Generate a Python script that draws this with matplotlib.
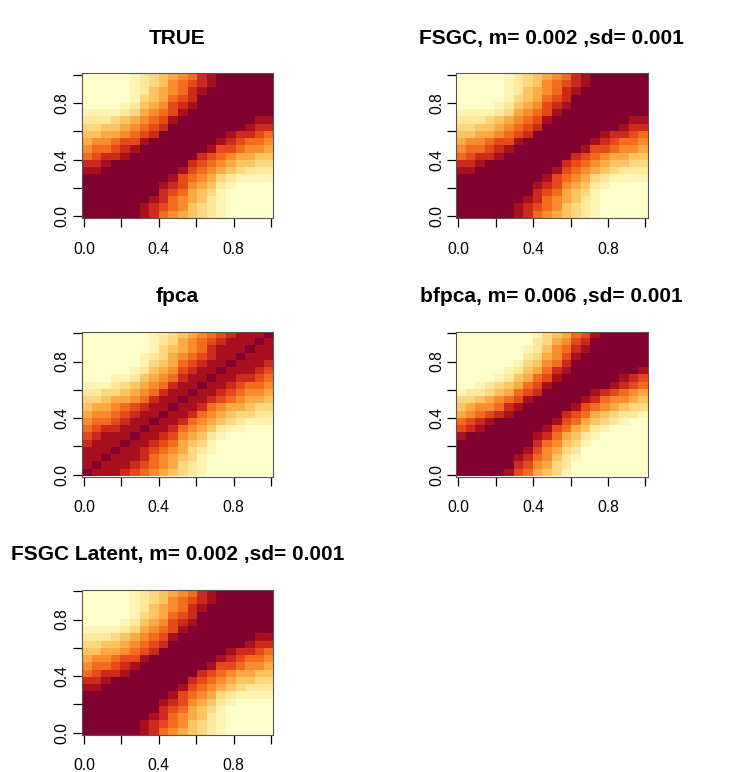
import numpy as np
import matplotlib
matplotlib.use("Agg")
import matplotlib.pyplot as plt
from matplotlib.colors import ListedColormap

plt.rcParams['font.family'] = ['Liberation Sans', 'DejaVu Sans']

# Colour level (0 = lightest ... 11 = darkest) of each image cell, read off the
# picture on a 20 x 20 grid; rows listed from y = 1 (top) down to y = 0.
TRUE_ROWS = [
    "0000012345679abbbbbb",
    "0000012346789abbbbbb",
    "000001245679abbbbbbb",
    "000001345789bbbbbbbb",
    "00001245689abbbbbbbb",
    "1111235678abbbbbbbbb",
    "222345678abbbbbbbbaa",
    "334456789bbbbbbbba99",
    "44556789bbbbbbba9987",
    "566788abbbbbbba98776",
    "67789abbbbbbba887665",
    "7899abbbbbbb98765544",
    "99abbbbbbbb987654433",
    "aabbbbbbbba876543222",
    "bbbbbbbbba8765321111",
    "bbbbbbbba98654210000",
    "bbbbbbbb987543100000",
    "bbbbbbba976542100000",
    "bbbbbba9876432100000",
    "bbbbbba9765432100000",
]

FSGC_ROWS = [
    "0000012345679abbbbbb",
    "0000012346789abbbbbb",
    "000001245679abbbbbbb",
    "000001345789bbbbbbbb",
    "00001245689abbbbbbbb",
    "1111235678abbbbbbbbb",
    "222345678abbbbbbbbaa",
    "334456789bbbbbbbba99",
    "44556789bbbbbbba9987",
    "566788abbbbbbba98776",
    "67789abbbbbbba887665",
    "7899abbbbbbb98765544",
    "99abbbbbbbb987654433",
    "aabbbbbbbba876543222",
    "bbbbbbbbba8765321111",
    "bbbbbbbba98654210000",
    "bbbbbbbb987543100000",
    "bbbbbbba976542100000",
    "bbbbbba9876432100000",
    "bbbbbba9765432100000",
]

FPCA_ROWS = [
    "0000000123456789aaab",
    "000000012356789aaaba",
    "00000001345679aaabaa",
    "00000012356789aabaaa",
    "0000001345789aabaaa9",
    "000001245689aabaaa98",
    "00011245679aabaa9987",
    "1112345679aabaa98776",
    "223345679aabaa987665",
    "33455679aabaa9876554",
    "4556789aabaa97655433",
    "566789aabaa976543322",
    "67789aabaa9765432111",
    "7899aabaa97654211000",
    "89aaabaa986542100000",
    "9aaabaa9875431000000",
    "aaabaa98765321000000",
    "aabaaa97654310000000",
    "abaaa987653210000000",
    "baaa9876543210000000",
]

BFPCA_ROWS = [
    "00000000134578abbbbb",
    "00000000235689bbbbbb",
    "0000000124679abbbbbb",
    "000000023568abbbbbbb",
    "000000134679bbbbbbbb",
    "00000124579abbbbbbba",
    "0000124578abbbbbba98",
    "001234578abbbbbba987",
    "122345789bbbbba98765",
    "3345678abbbbba976654",
    "456679abbbbba8765433",
    "56789abbbbb987543221",
    "789abbbbbba875432100",
    "89abbbbbba8754210000",
    "abbbbbbba97542100000",
    "bbbbbbbb976431000000",
    "bbbbbbba865320000000",
    "bbbbbba9764210000000",
    "bbbbbb98653200000000",
    "bbbbba87543100000000",
]

LATENT_ROWS = [
    "0000012345679abbbbbb",
    "0000012346789abbbbbb",
    "000001245679abbbbbbb",
    "000001345789bbbbbbbb",
    "00001245689abbbbbbbb",
    "1111235678abbbbbbbbb",
    "222345678abbbbbbbbaa",
    "334456789bbbbbbbba99",
    "44556789bbbbbbba9987",
    "566788abbbbbbba98776",
    "67789abbbbbbba887665",
    "7899abbbbbbb98765544",
    "99abbbbbbbb987654433",
    "aabbbbbbbba876543222",
    "bbbbbbbbba8765321111",
    "bbbbbbbba98654210000",
    "bbbbbbbb987543100000",
    "bbbbbbba976542100000",
    "bbbbbba9876432100000",
    "bbbbbba9765432100000",
]

TITLES = [
    "TRUE",
    "FSGC, m= 0.002 ,sd= 0.001",
    "fpca",
    "bfpca, m= 0.006 ,sd= 0.001",
    "FSGC Latent, m= 0.002 ,sd= 0.001",
]
PANELS = [TRUE_ROWS, FSGC_ROWS, FPCA_ROWS, BFPCA_ROWS, LATENT_ROWS]

TICKS = [0.0, 0.2, 0.4, 0.6, 0.8, 1.0]
TICK_LABELS = ["0.0", "", "0.4", "", "0.8", ""]

PALETTE = ["#FFFFCC", "#FFF4B4", "#FEE89C", "#FED880", "#FDC462", "#FCAA44",
           "#F98C2C", "#F26C1E", "#E64A1A", "#CC2A1C", "#A8101F", "#800030"]
N_LEVELS = len(PALETTE)
cmap = ListedColormap(PALETTE)

W, H = 747, 772
fig = plt.figure(figsize=(W / 100, H / 100), dpi=100)

# panel rectangles in pixels
col_x = [(81.7, 273.3), (456.0, 647.6)]
row_y = [(73.0, 218.0), (331.5, 476.5), (589.5, 734.5)]
slots = [(0, 0), (0, 1), (1, 0), (1, 1), (2, 0)]

ext = 0.012
for rows, title, (r, c) in zip(PANELS, TITLES, slots):
    x0, x1 = col_x[c]
    y0, y1 = row_y[r]
    ax = fig.add_axes([x0 / W, 1 - y1 / H, (x1 - x0) / W, (y1 - y0) / H])
    z = np.array([[int(ch, 16) for ch in row] for row in rows])
    ax.imshow(z, cmap=cmap, vmin=-0.5, vmax=N_LEVELS - 0.5,
              interpolation="nearest", aspect="auto", origin="upper",
              extent=(-ext, 1 + ext, -ext, 1 + ext))
    ax.set_xlim(-ext, 1 + ext)
    ax.set_ylim(-ext, 1 + ext)
    ax.set_xticks(TICKS)
    ax.set_xticklabels(TICK_LABELS)
    ax.set_yticks(TICKS)
    ax.set_yticklabels(TICK_LABELS, rotation=90, va="center")
    ax.tick_params(axis="both", direction="out", length=6.2, width=0.9,
                   labelsize=11.3, color="black")
    ax.tick_params(axis="x", pad=10.8)
    ax.tick_params(axis="y", pad=2.5)
    for sp in ax.spines.values():
        sp.set_linewidth(0.8)
        sp.set_color("#555555")
    ax.set_title(title, fontsize=15, fontweight="bold", pad=21)

fig.savefig("out.png", dpi=100)
